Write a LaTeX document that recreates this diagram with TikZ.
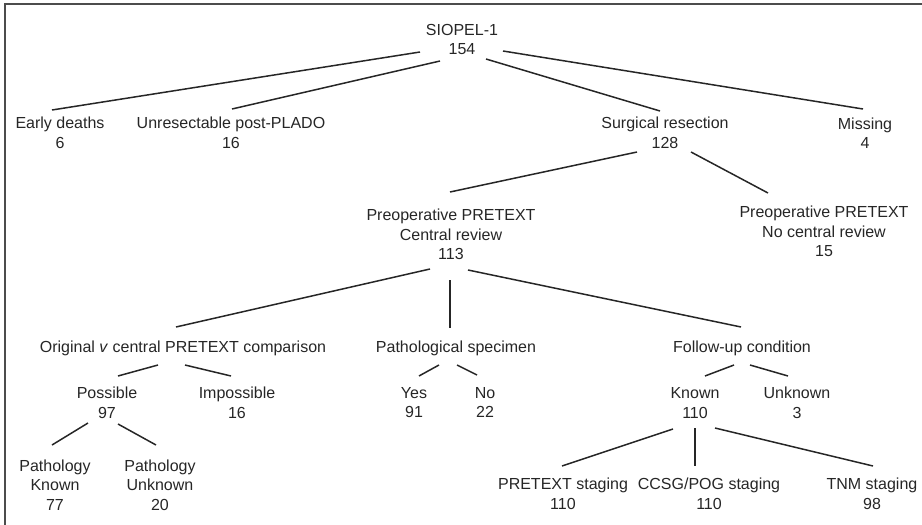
\documentclass[tikz,border=0pt]{standalone}
\usepackage{fontspec}
\setmainfont{Liberation Sans}
\definecolor{ink}{HTML}{262626}
\begin{document}
\begin{tikzpicture}[x=1pt,y=-1pt,
  lbl/.style={inner sep=0pt, align=center, text=ink, font=\fontsize{16}{19.5}\selectfont},
  conn/.style={draw=ink, line width=1.5pt},
  frameline/.style={draw=black!70, line width=1.6pt}]
\useasboundingbox (0,0) rectangle (922,525);
\draw[frameline] (5,525) -- (5,4) -- (922,4);

% nodes
\node[lbl] (root) at (462,39.5) {SIOPEL-1\\154};
\node[lbl] (early) at (60,133) {Early deaths\\6};
\node[lbl] (unres) at (231,133) {Unresectable post-PLADO\\16};
\node[lbl] (surg) at (665,133) {Surgical resection\\128};
\node[lbl] (miss) at (865,133) {Missing\\4};
\node[lbl] (prec) at (451,234.5) {Preoperative PRETEXT\\Central review\\113};
\node[lbl] (pren) at (824,231.5) {Preoperative PRETEXT\\No central review\\15};
\node[lbl] (orig) at (183,348) {Original \textit{v} central PRETEXT comparison};
\node[lbl] (path) at (456,348) {Pathological specimen};
\node[lbl] (foll) at (742,348) {Follow-up condition};
\node[lbl] (poss) at (107,403) {Possible\\97};
\node[lbl] (imposs) at (237,403) {Impossible\\16};
\node[lbl] (yes) at (414,402.5) {Yes\\91};
\node[lbl] (no) at (485,402.5) {No\\22};
\node[lbl] (known) at (695,403) {Known\\110};
\node[lbl] (unknown) at (797,403) {Unknown\\3};
\node[lbl] (pk) at (55,485) {Pathology\\Known\\77};
\node[lbl] (pu) at (160,485) {Pathology\\Unknown\\20};
\node[lbl] (pts) at (563,494) {PRETEXT staging\\110};
\node[lbl] (ccsg) at (709,494) {CCSG/POG staging\\110};
\node[lbl] (tnm) at (872,494) {TNM staging\\98};

% connectors
\draw[conn] ([shift={(-42,12.5)}]root.center) -- ([shift={(-8,-23)}]early.center);
\draw[conn] ([shift={(-22,21.5)}]root.center) -- ([shift={(1,-24)}]unres.center);
\draw[conn] ([shift={(24,19.5)}]root.center) -- ([shift={(-5,-22)}]surg.center);
\draw[conn] ([shift={(41,11.5)}]root.center) -- ([shift={(-2,-24)}]miss.center);

\draw[conn] ([shift={(-28,19)}]surg.center) -- ([shift={(-1,-42.5)}]prec.center);
\draw[conn] ([shift={(26,19)}]surg.center) -- ([shift={(-56,-38.5)}]pren.center);

\draw[conn] ([shift={(-21,34.5)}]prec.center) -- ([shift={(-7,-21)}]orig.center);
\draw[conn] ([shift={(-1,45.5)}]prec.center) -- ([shift={(-6,-20)}]path.center);
\draw[conn] ([shift={(17,35.5)}]prec.center) -- ([shift={(-1,-21)}]foll.center);

\draw[conn] ([shift={(-25,17)}]orig.center) -- ([shift={(11,-27)}]poss.center);
\draw[conn] ([shift={(2,17)}]orig.center) -- ([shift={(-6,-27)}]imposs.center);
\draw[conn] ([shift={(-17,17)}]path.center) -- ([shift={(5,-26.5)}]yes.center);
\draw[conn] ([shift={(1,17)}]path.center) -- ([shift={(-8,-27.5)}]no.center);
\draw[conn] ([shift={(-8,17)}]foll.center) -- ([shift={(10,-27)}]known.center);
\draw[conn] ([shift={(8,17)}]foll.center) -- ([shift={(-9,-27)}]unknown.center);

\draw[conn] ([shift={(-19,20)}]poss.center) -- ([shift={(-3,-40)}]pk.center);
\draw[conn] ([shift={(11,21)}]poss.center) -- ([shift={(-4,-40)}]pu.center);

\draw[conn] ([shift={(-22,26)}]known.center) -- ([shift={(-1,-28)}]pts.center);
\draw[conn] ([shift={(0,25)}]known.center) -- ([shift={(-14,-28)}]ccsg.center);
\draw[conn] ([shift={(20,25)}]known.center) -- ([shift={(1,-28)}]tnm.center);
\end{tikzpicture}
\end{document}
